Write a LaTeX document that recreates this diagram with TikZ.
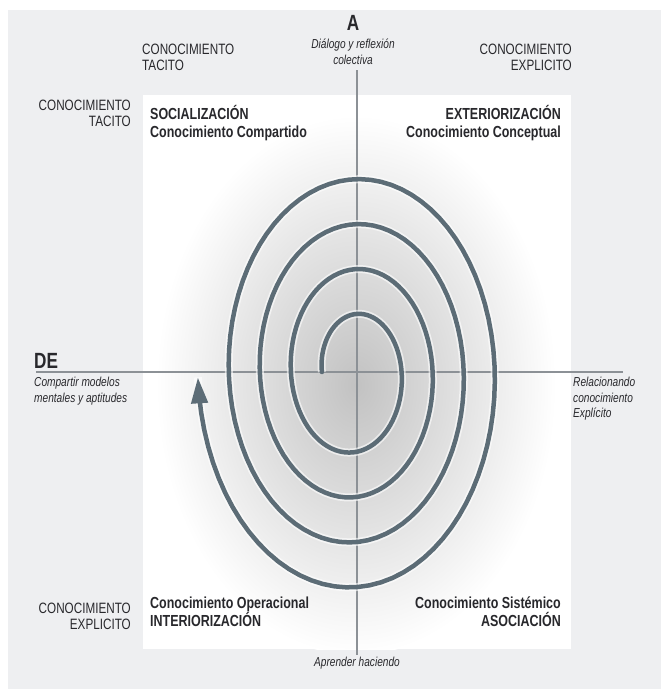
\documentclass[tikz,border=0pt]{standalone}
\usepackage{fontspec}
\setmainfont[FakeStretch=0.78]{Liberation Sans}
\usetikzlibrary{positioning,arrows.meta}
\definecolor{panelgray}{RGB}{238,239,241}
\definecolor{spiralc}{RGB}{92,108,118}
\definecolor{txtc}{RGB}{40,40,44}
\definecolor{axisc}{RGB}{140,145,150}
\tikzset{
  lbl/.style = {inner sep=0pt, text=txtc},
  lbl_cap/.style = {lbl, font=\fontsize{15}{15.5}\selectfont},
  lbl_quad/.style = {lbl, font=\bfseries\fontsize{16}{18}\selectfont},
  lbl_ax/.style = {lbl, font=\itshape\fontsize{13}{15.5}\selectfont},
  lbl_big/.style = {lbl, font=\bfseries\fontsize{22}{24}\selectfont},
  eje/.style = {draw=axisc, line width=1.2pt},
  espiral/.style = {draw=spiralc, line width=4.5pt, line cap=round}
}
\newcommand\rutaespiral{plot[domain=0:4, samples=320, variable=\t]
  ({354+0.69*(46.5+45*\t)*cos(180-360*\t)}, {372-(46.5+45*\t)*sin(180-360*\t)})}

\begin{document}
\begin{tikzpicture}[x=1pt, y=-1pt]
\useasboundingbox (0,0) rectangle (669,689);
\fill[white] (0,0) rectangle (669,689);
\fill[panelgray] (8,10) rectangle (661,689);
\fill[white] (143,95) rectangle (571,649);
\begin{scope}
  \clip (143,95) rectangle (571,649);
  \shade[inner color=black!24, outer color=white] (356,385)
    ellipse [x radius=200, y radius=270];
\end{scope}

% titulos de los ejes
\node[lbl_big] (a) at (353,23) {A};
\node[lbl_ax, align=center, anchor=north] (dlg) at (353,39) {Diálogo y reflexión\\colectiva};
\node[lbl_big, anchor=south west] (de) at (34,369) {DE};
\node[lbl_ax, align=left, anchor=north west] (cmp) at (34,377) {Compartir modelos\\mentales y aptitudes};
\node[lbl_ax, align=left, anchor=north west] (rel) at (573,377) {Relacionando\\conocimiento\\Explícito};
\node[lbl_ax, anchor=north] (apr) at (357,657) {Aprender haciendo};

% columnas y filas
\node[lbl_cap, align=left, anchor=north west] (col_t) at (142,44) {CONOCIMIENTO\\TACITO};
\node[lbl_cap, align=right, anchor=north east] (col_e) at (572,44) {CONOCIMIENTO\\EXPLICITO};
\node[lbl_cap, align=right, anchor=north east] (fil_t) at (131,100) {CONOCIMIENTO\\TACITO};
\node[lbl_cap, align=right, anchor=north east] (fil_e) at (131,603) {CONOCIMIENTO\\EXPLICITO};

% cuadrantes
\node[lbl_quad, align=left, anchor=north west] (soc) at (150,105) {SOCIALIZACIÓN\\Conocimiento Compartido};
\node[lbl_quad, align=right, anchor=north east] (ext) at (561,105) {EXTERIORIZACIÓN\\Conocimiento Conceptual};
\node[lbl_quad, align=left, anchor=north west] (int) at (150,597) {Conocimiento Operacional\\INTERIORIZACIÓN};
\node[lbl_quad, align=right, anchor=north east] (aso) at (561,597) {Conocimiento Sistémico\\ASOCIACIÓN};

% ejes
\coordinate (eje_n) at (357,70);
\coordinate (eje_s) at (357,655);
\coordinate (eje_o) at (36,372);
\coordinate (eje_e) at (623,372);
\draw[eje] (eje_n) -- (eje_s);
\draw[eje] (eje_o) -- (eje_e);

% espiral
\draw[white, line width=8pt, opacity=0.6] \rutaespiral;
\draw[espiral, -{Triangle[length=26pt,width=16pt]}] \rutaespiral;
\end{tikzpicture}
\end{document}
